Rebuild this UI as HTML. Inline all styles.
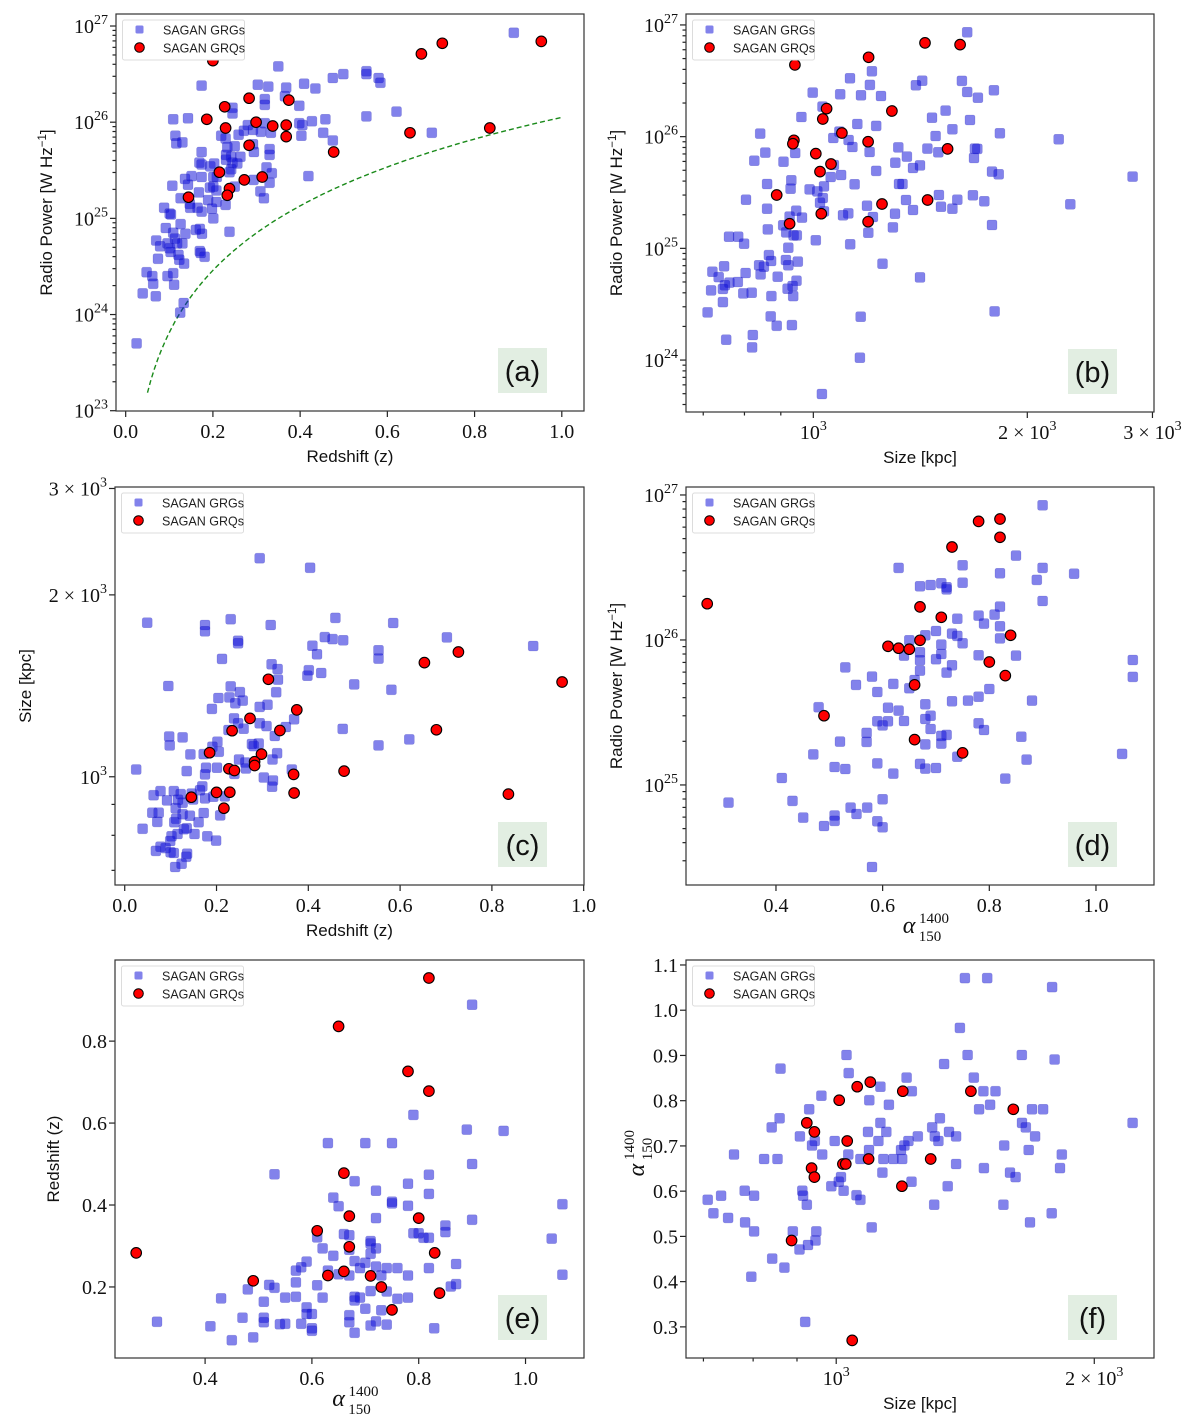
<!DOCTYPE html>
<html><head><meta charset="utf-8"><title>SAGAN GRGs vs GRQs</title>
<style>
html,body{margin:0;padding:0;background:#fff;}
svg{display:block;}
.tk{font-family:"Liberation Serif","DejaVu Serif",serif;font-size:20px;fill:#111;}
.ax{font-family:"Liberation Sans","DejaVu Sans",sans-serif;font-size:17px;fill:#111;}
.lg{font-family:"Liberation Sans","DejaVu Sans",sans-serif;font-size:12.5px;fill:#222;}
.pl{font-family:"Liberation Sans","DejaVu Sans",sans-serif;font-size:29px;fill:#111;}
</style></head>
<body>
<svg id="fig" width="1200" height="1426" viewBox="0 0 1200 1426" xmlns="http://www.w3.org/2000/svg"></svg>
<script>
// ---------- Panel (a): redshift vs log10 radio power ----------
const a_grg_z=[0.890,0.350,0.174,0.499,0.475,0.552,0.552,0.580,0.584,0.303,0.327,0.368,0.409,0.435,0.319,0.319,0.365,0.398,0.245,0.245,0.109,0.143,0.621,0.552,0.458,0.427,0.398,0.405,0.319,0.280,0.292,0.271,0.310,0.333,0.259,0.403,0.453,0.475,0.702,0.114,0.116,0.130,0.219,0.229,0.250,0.233,0.292,0.294,0.330,0.330,0.174,0.230,0.242,0.263,0.169,0.174,0.194,0.203,0.230,0.245,0.256,0.242,0.238,0.335,0.323,0.419,0.136,0.151,0.174,0.201,0.209,0.143,0.107,0.193,0.201,0.208,0.250,0.293,0.330,0.168,0.189,0.208,0.229,0.309,0.317,0.126,0.147,0.148,0.165,0.174,0.198,0.201,0.088,0.101,0.104,0.092,0.126,0.109,0.113,0.137,0.161,0.170,0.175,0.238,0.070,0.079,0.096,0.101,0.103,0.130,0.118,0.074,0.121,0.123,0.170,0.172,0.181,0.134,0.048,0.061,0.096,0.109,0.111,0.063,0.039,0.069,0.133,0.125,0.025];
const a_grg_logP=[26.93,26.58,26.38,26.50,26.46,26.53,26.50,26.46,26.41,26.39,26.37,26.36,26.40,26.35,26.24,26.18,26.27,26.17,26.15,26.09,26.03,26.04,26.11,26.06,26.03,26.01,25.99,25.97,25.99,25.97,25.92,25.91,25.90,25.89,25.87,25.86,25.89,25.81,25.89,25.86,25.78,25.79,25.86,25.83,25.75,25.74,25.77,25.69,25.72,25.66,25.69,25.66,25.64,25.64,25.58,25.56,25.54,25.57,25.61,25.58,25.57,25.51,25.48,25.47,25.53,25.44,25.41,25.44,25.43,25.43,25.43,25.35,25.34,25.32,25.33,25.29,25.33,25.40,25.37,25.27,25.19,25.17,25.14,25.28,25.21,25.21,25.15,25.11,25.11,25.07,25.10,25.00,25.11,25.05,25.04,24.90,24.94,24.85,24.79,24.84,24.88,24.89,24.84,24.86,24.77,24.71,24.74,24.69,24.65,24.74,24.74,24.58,24.62,24.57,24.66,24.64,24.60,24.53,24.44,24.40,24.40,24.43,24.31,24.32,24.22,24.19,24.12,24.02,23.70];
const a_grq_z=[0.200,0.678,0.726,0.953,0.283,0.374,0.227,0.186,0.299,0.229,0.337,0.368,0.368,0.652,0.835,0.283,0.477,0.215,0.313,0.272,0.238,0.233,0.144];
const a_grq_logP=[26.64,26.71,26.82,26.84,26.25,26.23,26.16,26.03,26.00,25.94,25.96,25.97,25.85,25.89,25.94,25.76,25.69,25.48,25.43,25.40,25.31,25.24,25.22];
const a_limit_flux_norm_logP_at_z1=26.05;
const a_limit_alpha=0.7;
const a_limit_zrange=[0.05,1.0];

// ---------- Panel (b): size (kpc) vs log10 radio power ----------
const b_grg_size=[1646,1209,1126,1423,1618,1201,1394,1795,998,1646,1091,1167,1245,1704,1030,1535,962,1469,1661,1153,1226,1569,842,1830,1088,1486,2214,1067,1121,1135,1317,1447,1688,1701,856,943,1200,1499,1354,1683,826,908,1304,1413,1069,1381,1784,1823,1226,1058,1094,2813,931,861,1143,1320,1335,1035,929,988,1013,1502,1677,2299,1031,804,1594,1350,1740,1022,1190,1512,1569,1381,861,946,1035,1120,1101,1303,926,964,1213,907,1784,1294,863,916,1195,938,948,761,784,799,1008,1127,922,866,872,915,922,951,839,852,1251,749,721,736,803,843,891,1413,762,751,783,947,935,718,746,797,819,920,873,937,746,710,1799,871,1166,888,933,822,754,820,1163,1028];
const b_grg_logP=[26.934,26.585,26.522,26.501,26.499,26.463,26.460,26.415,26.394,26.400,26.379,26.370,26.364,26.349,26.269,26.233,26.176,26.170,26.149,26.113,26.096,26.066,26.027,26.030,26.045,26.006,25.976,25.988,25.970,25.907,25.904,25.893,25.893,25.890,25.857,25.854,25.863,25.860,25.821,25.809,25.785,25.776,25.767,25.743,25.746,25.719,25.687,25.663,25.693,25.639,25.657,25.642,25.609,25.576,25.573,25.576,25.576,25.555,25.534,25.528,25.510,25.478,25.475,25.394,25.451,25.436,25.436,25.433,25.421,25.409,25.382,25.373,25.355,25.343,25.355,25.337,25.331,25.313,25.296,25.310,25.284,25.275,25.281,25.206,25.209,25.188,25.170,25.143,25.140,25.116,25.116,25.104,25.104,25.042,25.072,25.036,25.006,24.940,24.887,24.896,24.848,24.881,24.848,24.836,24.863,24.839,24.791,24.743,24.779,24.767,24.746,24.740,24.693,24.669,24.699,24.710,24.663,24.624,24.636,24.597,24.603,24.639,24.573,24.573,24.519,24.427,24.436,24.391,24.388,24.307,24.313,24.224,24.182,24.113,24.021,23.696];
const b_grq_size=[942,1196,1436,1609,1044,1031,1290,939,936,1097,1194,1545,1008,1059,1022,888,1249,1448,1026,1194,926];
const b_grq_logP=[26.642,26.710,26.839,26.824,26.251,26.158,26.230,25.967,25.937,26.033,25.955,25.890,25.848,25.755,25.687,25.478,25.397,25.433,25.310,25.239,25.221];

// ---------- Panel (c): redshift vs size ----------
const c_grg_z=[0.294,0.404,0.459,0.231,0.049,0.585,0.318,0.175,0.175,0.702,0.436,0.453,0.476,0.247,0.247,0.890,0.409,0.553,0.419,0.553,0.212,0.320,0.333,0.401,0.428,0.398,0.334,0.500,0.095,0.581,0.231,0.330,0.251,0.228,0.204,0.257,0.241,0.311,0.294,0.190,0.238,0.369,0.247,0.294,0.309,0.351,0.259,0.475,0.226,0.327,0.097,0.126,0.620,0.202,0.277,0.292,0.098,0.553,0.191,0.281,0.205,0.332,0.172,0.143,0.249,0.322,0.263,0.177,0.201,0.264,0.025,0.135,0.364,0.239,0.175,0.303,0.323,0.321,0.169,0.164,0.078,0.107,0.063,0.122,0.146,0.175,0.092,0.116,0.149,0.193,0.218,0.126,0.111,0.060,0.074,0.126,0.172,0.142,0.208,0.112,0.071,0.108,0.161,0.135,0.129,0.039,0.115,0.152,0.180,0.199,0.102,0.099,0.078,0.089,0.068,0.100,0.107,0.136,0.134,0.124,0.110];
const c_grg_size=[2300,2217,1832,1823,1799,1797,1783,1783,1741,1701,1703,1690,1682,1679,1663,1646,1648,1619,1595,1569,1567,1535,1508,1501,1485,1470,1448,1422,1413,1393,1411,1380,1381,1353,1350,1337,1323,1316,1305,1295,1249,1245,1226,1226,1213,1209,1201,1200,1195,1168,1166,1162,1153,1143,1133,1135,1127,1127,1121,1124,1100,1094,1090,1089,1068,1068,1056,1035,1035,1032,1028,1022,1028,1011,1009,997,986,963,964,950,947,947,932,936,938,921,914,916,917,927,928,906,887,872,872,867,871,862,863,852,842,841,841,822,819,820,804,804,797,784,797,783,766,762,754,750,748,746,737,718,709];
const c_grq_z=[0.953,0.727,0.653,0.313,0.375,0.273,0.234,0.338,0.679,0.185,0.298,0.283,0.283,0.227,0.239,0.368,0.478,0.200,0.229,0.145,0.369,0.836,0.216];
const c_grq_size=[1435,1609,1545,1450,1290,1249,1192,1193,1196,1096,1090,1059,1044,1031,1024,1009,1022,942,943,925,940,936,887];

// ---------- Panel (d): spectral index vs log10 radio power ----------
const d_grg_alpha=[0.900,0.850,0.630,0.750,0.900,0.959,0.820,0.889,0.750,0.710,0.690,0.670,0.720,0.720,0.900,0.820,0.810,0.780,0.740,0.790,0.820,0.700,0.680,0.730,0.740,0.820,0.650,0.750,0.710,0.670,0.640,0.710,0.780,0.850,0.700,0.670,1.069,0.730,0.530,0.670,0.720,0.580,1.069,0.660,0.620,0.550,0.650,0.800,0.590,0.780,0.730,0.760,0.880,0.680,0.480,0.610,0.630,0.690,0.680,0.590,0.610,0.640,0.600,0.780,0.690,0.790,0.570,0.720,0.710,0.860,0.520,0.570,0.710,0.680,0.470,1.049,0.740,0.870,0.590,0.670,0.510,0.530,0.680,0.700,0.620,0.411,0.830,0.600,0.431,0.311,0.540,0.571,0.510,0.551,0.451,0.510,0.590,0.490,0.600,0.580];
const d_grg_logP=[26.929,26.582,26.497,26.515,26.497,26.457,26.460,26.414,26.395,26.391,26.379,26.370,26.363,26.349,26.269,26.230,26.175,26.168,26.147,26.113,26.094,26.062,26.032,26.044,26.028,26.011,25.998,25.977,25.968,25.915,25.892,25.903,25.894,25.892,25.867,25.860,25.862,25.825,25.811,25.789,25.775,25.747,25.745,25.724,25.697,25.690,25.667,25.662,25.641,25.609,25.577,25.582,25.582,25.556,25.536,25.533,25.513,25.478,25.455,25.439,25.439,25.441,25.411,25.425,25.386,25.379,25.359,25.345,25.338,25.333,25.299,25.297,25.285,25.280,25.211,25.214,25.195,25.175,25.149,25.145,25.124,25.110,25.113,25.117,25.078,25.048,25.044,24.901,24.890,24.878,24.844,24.844,24.789,24.800,24.775,24.752,24.749,24.717,24.708,24.434];
const d_grq_alpha=[0.271,0.780,0.820,0.820,0.730,0.670,0.710,0.840,0.670,0.610,0.630,0.650,0.800,0.830,0.660,0.490,0.660,0.750];
const d_grq_logP=[26.25,26.818,26.834,26.708,26.641,26.228,26.156,26.032,25.998,25.956,25.943,25.936,25.848,25.754,25.690,25.478,25.313,25.221];

// ---------- Panel (e): spectral index vs redshift ----------
const e_grg_alpha=[0.900,0.790,0.890,0.959,0.630,0.700,0.750,0.900,0.530,0.819,0.680,0.780,0.720,0.819,0.640,0.750,0.750,0.650,0.780,1.069,0.720,0.900,0.850,0.660,0.790,0.800,0.850,0.670,0.610,0.809,0.819,1.049,0.710,0.710,0.620,0.720,0.670,0.710,0.640,0.680,0.700,0.590,0.870,0.580,0.570,0.630,0.690,0.720,0.740,0.760,0.819,0.650,0.670,0.730,0.780,1.069,0.570,0.520,0.530,0.610,0.480,0.870,0.860,0.710,0.740,0.430,0.550,0.570,0.620,0.680,0.690,0.760,0.780,0.680,0.510,0.590,0.700,0.730,0.470,0.510,0.590,0.600,0.670,0.510,0.540,0.550,0.580,0.670,0.720,0.740,0.710,0.310,0.410,0.600,0.600,0.829,0.680,0.490,0.450];
const e_grg_z=[0.889,0.620,0.584,0.581,0.551,0.551,0.551,0.500,0.475,0.474,0.458,0.452,0.435,0.427,0.418,0.408,0.404,0.397,0.398,0.402,0.368,0.364,0.350,0.329,0.331,0.331,0.334,0.326,0.321,0.320,0.320,0.318,0.312,0.306,0.294,0.294,0.291,0.281,0.276,0.263,0.259,0.262,0.256,0.248,0.240,0.240,0.246,0.250,0.246,0.246,0.246,0.231,0.228,0.228,0.228,0.230,0.211,0.205,0.198,0.204,0.194,0.207,0.201,0.190,0.189,0.172,0.174,0.176,0.174,0.176,0.174,0.171,0.174,0.167,0.164,0.150,0.147,0.143,0.125,0.125,0.134,0.134,0.131,0.114,0.109,0.110,0.110,0.114,0.116,0.108,0.106,0.115,0.104,0.099,0.093,0.099,0.088,0.077,0.070];
const e_grq_alpha=[0.819,0.650,0.780,0.819,0.660,0.670,0.800,0.610,0.670,0.271,0.830,0.660,0.630,0.710,0.490,0.730,0.839,0.750];
const e_grq_z=[0.954,0.836,0.726,0.678,0.478,0.373,0.368,0.337,0.298,0.283,0.283,0.238,0.228,0.227,0.215,0.200,0.185,0.144];

// ---------- Panel (f): size vs spectral index ----------
const f_grg_size=[1413,1500,1786,1394,1028,1423,1646,1798,1336,861,1034,1208,1447,1126,1225,1485,1534,961,1093,1152,1512,930,1468,1692,1743,859,1321,1126,1647,2217,841,1294,1664,1089,1144,1354,907,1303,1380,1706,944,996,1120,1214,1245,1316,937,1201,1570,1092,1190,1677,760,963,1033,1833,824,854,1067,1135,1166,1194,1380,1487,1824,1132,1595,1619,1013,1224,1007,987,1349,782,913,1020,734,802,915,1056,1067,708,924,1301,1567,719,1784,748,783,1683,1100,802,890,948,946,927,906,842,870,796,920];
const f_grg_alpha=[1.071,1.071,1.051,0.961,0.901,0.901,0.901,0.891,0.881,0.871,0.861,0.851,0.851,0.831,0.821,0.821,0.821,0.811,0.801,0.791,0.791,0.781,0.781,0.781,0.781,0.761,0.761,0.751,0.751,0.751,0.741,0.741,0.741,0.731,0.731,0.731,0.721,0.721,0.721,0.721,0.711,0.711,0.711,0.711,0.721,0.711,0.701,0.701,0.701,0.691,0.691,0.691,0.681,0.681,0.681,0.681,0.671,0.671,0.671,0.671,0.671,0.671,0.660,0.651,0.651,0.641,0.641,0.631,0.631,0.621,0.621,0.611,0.611,0.601,0.601,0.601,0.590,0.590,0.590,0.591,0.581,0.581,0.570,0.570,0.570,0.551,0.551,0.541,0.531,0.531,0.520,0.511,0.511,0.511,0.491,0.481,0.471,0.451,0.431,0.411,0.311];
const f_grq_size=[1096,1058,1196,1436,1008,1609,924,943,1030,1091,1289,1018,1026,936,943,1193,887,1044];
const f_grq_alpha=[0.841,0.831,0.821,0.821,0.801,0.781,0.751,0.731,0.711,0.671,0.671,0.660,0.660,0.651,0.631,0.611,0.491,0.270];

// ---------- tick label arrays ----------
const powerTickExps=[23,24,25,26,27];
const sizeTickValues=[1000,2000,3000];
const sizeTickLabels=[["10","3"],["2 × 10","3"],["3 × 10","3"]];
const zTicks=[0.0,0.2,0.4,0.6,0.8,1.0];
const alphaTicksX=[0.4,0.6,0.8,1.0];
const zTicksY=[0.2,0.4,0.6,0.8];
const alphaTicksY=[0.3,0.4,0.5,0.6,0.7,0.8,0.9,1.0,1.1];

const NS="http://www.w3.org/2000/svg";
const svg=document.getElementById('fig');
function mk(tag,attrs,parent){const e=document.createElementNS(NS,tag);for(const k in attrs)e.setAttribute(k,attrs[k]);(parent||svg).appendChild(e);return e;}
function linScale(d0,d1,r0,r1){return v=>r0+(v-d0)/(d1-d0)*(r1-r0);}
function logScale(d0,d1,r0,r1){const l0=Math.log10(d0),l1=Math.log10(d1);return v=>r0+(Math.log10(v)-l0)/(l1-l0)*(r1-r0);}
function fmt(v){return v.toFixed(1);}

function supText(g,x,y,base,exp,anchor,cls){
  const t=mk('text',{x:x,y:y,'text-anchor':anchor,'class':cls},g);
  const s1=mk('tspan',{},t);s1.textContent=base;
  if(exp!==null){const s2=mk('tspan',{dy:-9,'font-size':'14'},t);s2.textContent=exp;}
  return t;
}

function buildPanel(p){
  const g=mk('g',{});
  
  
  const L=p.box[0],T=p.box[1],R=p.box[2],B=p.box[3];
  const xs=p.xlog?logScale(p.xd[0],p.xd[1],L,R):linScale(p.xd[0],p.xd[1],L,R);
  const ys=p.ylog?logScale(p.yd[0],p.yd[1],B,T):linScale(p.yd[0],p.yd[1],B,T);
  const cp=mk('clipPath',{id:'clip-'+p.id},g);
  mk('rect',{x:L,y:T,width:R-L,height:B-T},cp);
  const lb=mk('g',{},g);
  
  
  mk('rect',{x:R-86,y:B-63,width:49,height:45,fill:'#e2eee2'},lb);
  const lt=mk('text',{x:R-61.5,y:B-30,'text-anchor':'middle','class':'pl'},lb);lt.textContent='('+p.id+')';
  const tg=mk('g',{},g);
  
  
  p.xticks.forEach(t=>{
    const x=xs(t.v); if(x<L-0.5||x>R+0.5)return;
    mk('line',{x1:x,y1:B,x2:x,y2:B+(t.label?6:3.5),stroke:'#222','stroke-width':1.2},tg);
    if(t.label){supText(tg,x,B+27,t.label[0],t.label[1],'middle','tk');}
  });
  const yg=mk('g',{},g);
  
  
  p.yticks.forEach(t=>{
    const y=ys(t.v); if(y<T-0.5||y>B+0.5)return;
    mk('line',{x1:L,y1:y,x2:L-(t.label?6:3.5),y2:y,stroke:'#222','stroke-width':1.2},yg);
    if(t.label){supText(yg,L-8,y+7,t.label[0],t.label[1],'end','tk');}
  });
  if(p.curve){
    const pts=p.curve.map(c=>fmt(xs(c[0]))+','+fmt(ys(c[1]))).join(' ');
    const pl=mk('polyline',{points:pts,fill:'none',stroke:'#1a8a1a','stroke-width':1.4,'stroke-dasharray':'5,3','clip-path':'url(#clip-'+p.id+')'},g);
    
    
  }
  const sg=mk('g',{'clip-path':'url(#clip-'+p.id+')'},g);
  
  
  for(let i=0;i<p.gx.length;i++){
    const r=mk('rect',{x:fmt(xs(p.gx[i])-5),y:fmt(ys(p.gy[i])-5),width:10,height:10,rx:2,fill:'#1010d8','fill-opacity':0.52,stroke:'#2020a0','stroke-opacity':0.25,'stroke-width':0.6},sg);
    
    
  }
  const qg=mk('g',{'clip-path':'url(#clip-'+p.id+')'},g);
  
  
  for(let i=0;i<p.qx.length;i++){
    const c=mk('circle',{cx:fmt(xs(p.qx[i])),cy:fmt(ys(p.qy[i])),r:5.3,fill:'#ff0000',stroke:'#000','stroke-width':1.1},qg);
    
    
  }
  const lg=mk('g',{},g);
  
  
  mk('rect',{x:L+6.5,y:T+6,width:122,height:40,rx:2,fill:'#fff',stroke:'#dcdcdc','stroke-width':1},lg);
  const e1=mk('g',{},lg);
  
  
  mk('rect',{x:L+19.5,y:T+11.5,width:8,height:8,rx:1.5,fill:'#1010d8','fill-opacity':0.52},e1);
  const t1=mk('text',{x:L+47,y:T+20.5,'class':'lg'},e1);t1.textContent='SAGAN GRGs';
  const e2=mk('g',{},lg);
  
  
  mk('circle',{cx:L+23.5,cy:T+33.5,r:4.8,fill:'#ff0000',stroke:'#000','stroke-width':1},e2);
  const t2=mk('text',{x:L+47,y:T+38.5,'class':'lg'},e2);t2.textContent='SAGAN GRQs';
  const fr=mk('rect',{x:L,y:T,width:R-L,height:B-T,fill:'none',stroke:'#333','stroke-width':1.2},g);
  
  
  const xt=p.xtitle(g,(L+R)/2,B+51);
  
  
  const yt=p.ytitle(g,p.ytx,(T+B)/2);
  
  
}

function plainTitle(txt){return (g,x,y)=>{const t=mk('text',{x:x,y:y,'text-anchor':'middle','class':'ax'},g);t.textContent=txt;return t;};}
function rotTitle(txt){return (g,x,y)=>{const t=mk('text',{x:x,y:y,'text-anchor':'middle','class':'ax',transform:'rotate(-90 '+x+' '+y+')'},g);t.textContent=txt;return t;};}
function powerTitle(g,x,y){
  const t=mk('text',{x:x,y:y,'text-anchor':'middle','class':'ax',transform:'rotate(-90 '+x+' '+y+')'},g);
  const a=mk('tspan',{},t);a.textContent='Radio Power [W Hz';
  const b=mk('tspan',{dy:-6,'font-size':'11.5'},t);b.textContent='−1';
  const c=mk('tspan',{dy:6},t);c.textContent=']';
  return t;
}
function alphaX(g,x,y){
  const t=mk('g',{},g);
  const a=mk('text',{x:x-11,y:y-3,'text-anchor':'middle','font-family':'Liberation Serif, serif','font-style':'italic','font-size':'24',fill:'#111'},t);a.textContent='α';
  const s=mk('text',{x:x+14,y:y-13,'text-anchor':'middle','font-family':'Liberation Serif, serif','font-size':'15',fill:'#111'},t);s.textContent='1400';
  const d=mk('text',{x:x+10,y:y+5,'text-anchor':'middle','font-family':'Liberation Serif, serif','font-size':'15',fill:'#111'},t);d.textContent='150';
  return t;
}
function alphaY(g,x,y){
  const t=mk('g',{transform:'rotate(-90 '+x+' '+y+')'},g);
  const a=mk('text',{x:x-11,y:y+6,'text-anchor':'middle','font-family':'Liberation Serif, serif','font-style':'italic','font-size':'24',fill:'#111'},t);a.textContent='α';
  const s=mk('text',{x:x+14,y:y-4,'text-anchor':'middle','font-family':'Liberation Serif, serif','font-size':'15',fill:'#111'},t);s.textContent='1400';
  const d=mk('text',{x:x+10,y:y+14,'text-anchor':'middle','font-family':'Liberation Serif, serif','font-size':'15',fill:'#111'},t);d.textContent='150';
  return t;
}

function powerTicks(){const out=[];powerTickExps.forEach(e=>{out.push({v:e,label:['10',String(e)]});for(let k=2;k<=9;k++)out.push({v:e+Math.log10(k)});});return out;}
function sizeTicks(){const out=[];[500,600,700,800,900].forEach(v=>out.push({v:v}));sizeTickValues.forEach((v,i)=>out.push({v:v,label:sizeTickLabels[i]}));return out;}
function linTicks(arr,dec){return arr.map(v=>({v:v,label:[v.toFixed(dec),null]}));}

function lumDist(z){const H0=70,Om=0.3,c=299792.458;let s=0;const n=400;for(let i=0;i<n;i++){const zz=(i+0.5)/n*z;s+=1/Math.sqrt(Om*Math.pow(1+zz,3)+1-Om);}return (1+z)*c/H0*s*z/n;}
function limitLogP(z){return 2*Math.log10(lumDist(z))+(a_limit_alpha-1)*Math.log10(1+z);}
const curveA=[];{const ref=limitLogP(1.0);for(let i=0;i<=120;i++){const z=a_limit_zrange[0]+(a_limit_zrange[1]-a_limit_zrange[0])*i/120;curveA.push([z,a_limit_flux_norm_logP_at_z1+limitLogP(z)-ref]);}}

const panels=[
 {id:'a',box:[116,14,584,411],xd:[-0.0222,1.0509],yd:[22.997,27.125],xlog:false,ylog:false,
  xticks:linTicks(zTicks,1),yticks:powerTicks(),gx:a_grg_z,gy:a_grg_logP,qx:a_grq_z,qy:a_grq_logP,curve:curveA,
  xtitle:plainTitle('Redshift (z)'),ytitle:powerTitle,ytx:52},
 {id:'b',box:[686,14,1154,412],xd:[662,3015],yd:[23.535,27.098],xlog:true,ylog:false,
  xticks:sizeTicks(),yticks:powerTicks(),gx:b_grg_size,gy:b_grg_logP,qx:b_grq_size,qy:b_grq_logP,
  xtitle:plainTitle('Size [kpc]'),ytitle:powerTitle,ytx:622},
 {id:'c',box:[115,487,584,885],xd:[-0.0212,1.0007],yd:[662,3017],xlog:false,ylog:true,
  xticks:linTicks(zTicks,1),yticks:sizeTicks(),gx:c_grg_z,gy:c_grg_size,qx:c_grq_z,qy:c_grq_size,
  xtitle:plainTitle('Redshift (z)'),ytitle:rotTitle('Size [kpc]'),ytx:31},
 {id:'d',box:[686,487,1154,885],xd:[0.2313,1.1088],yd:[24.31,27.055],xlog:false,ylog:false,
  xticks:linTicks(alphaTicksX,1),yticks:powerTicks(),gx:d_grg_alpha,gy:d_grg_logP,qx:d_grq_alpha,qy:d_grq_logP,
  xtitle:alphaX,ytitle:powerTitle,ytx:622},
 {id:'e',box:[115,960,584,1358],xd:[0.2313,1.1095],yd:[0.0266,0.998],xlog:false,ylog:false,
  xticks:linTicks(alphaTicksX,1),yticks:linTicks(zTicksY,1),gx:e_grg_alpha,gy:e_grg_z,qx:e_grq_alpha,qy:e_grq_z,
  xtitle:alphaX,ytitle:rotTitle('Redshift (z)'),ytx:59},
 {id:'f',box:[686,960,1154,1358],xd:[668,2348],yd:[0.2312,1.111],xlog:true,ylog:false,
  xticks:sizeTicks(),yticks:linTicks(alphaTicksY,1),gx:f_grg_size,gy:f_grg_alpha,qx:f_grq_size,qy:f_grq_alpha,
  xtitle:plainTitle('Size [kpc]'),ytitle:alphaY,ytx:638}
];
panels.forEach(buildPanel);
</script>
</body></html>
